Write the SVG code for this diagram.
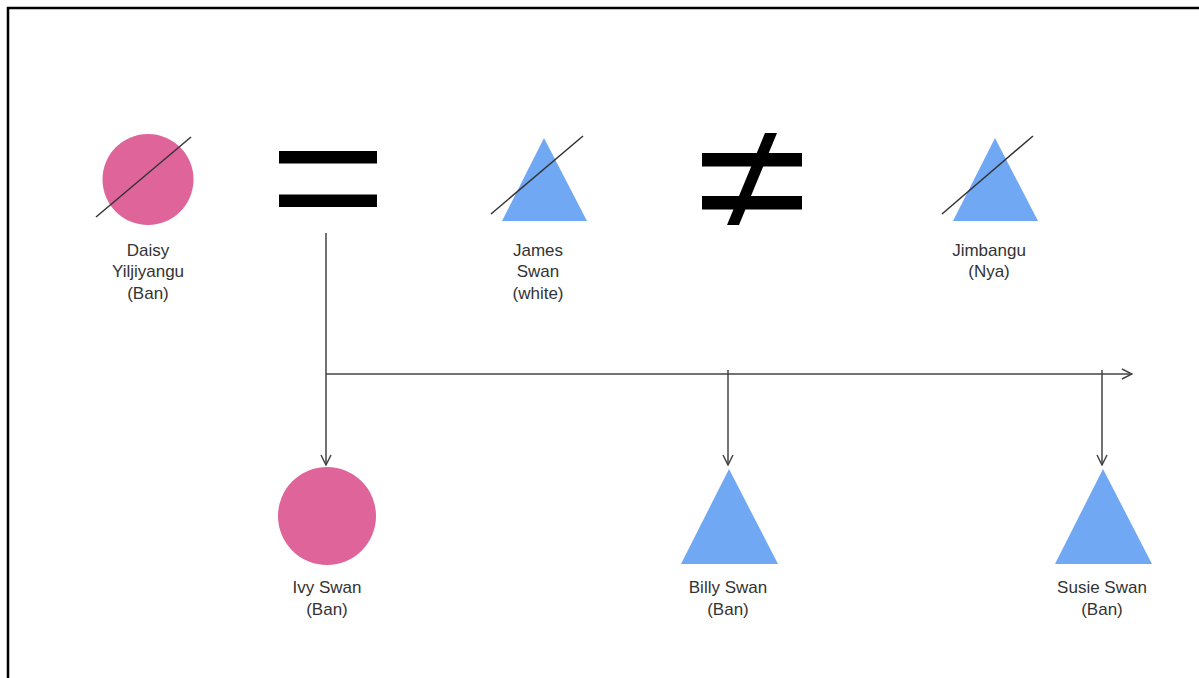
<svg xmlns="http://www.w3.org/2000/svg" width="1199" height="678" viewBox="0 0 1199 678">
<style>
.lbl{font-family:"Liberation Sans",Arial,sans-serif;font-size:17px;fill:#333;text-anchor:middle}
.f{fill:#DE6499}
.m{fill:#70A8F4}
.slash{stroke:#333;stroke-width:1.5;fill:none}
.conn{stroke:#444;stroke-width:1.5;fill:none}
</style>
<defs>
<marker id="arr" viewBox="0 0 12 12" refX="11" refY="6" markerWidth="12" markerHeight="12" markerUnits="userSpaceOnUse" orient="auto">
<path d="M1,1 L11,6 L1,11" fill="none" stroke="#444" stroke-width="1.5"/>
</marker>
</defs>
<rect width="1199" height="678" fill="#fff"/>
<path d="M8,678 V8 H1199" fill="none" stroke="#000" stroke-width="2.5"/>
<g id="connectors">
<path class="conn" d="M326,233 V374"/>
<path class="conn" d="M326,374 H1132" marker-end="url(#arr)"/>
<path class="conn" d="M326,374 V465" marker-end="url(#arr)"/>
<path class="conn" d="M728,370 V465" marker-end="url(#arr)"/>
<path class="conn" d="M1102,370 V465" marker-end="url(#arr)"/>
</g>
<g id="daisy">
<circle class="f" cx="148" cy="179.5" r="45.5"/>
<line class="slash" x1="96" y1="217" x2="191" y2="137"/>
<text class="lbl" x="148" y="256">Daisy</text>
<text class="lbl" x="148" y="277">Yiljiyangu</text>
<text class="lbl" x="148" y="299">(Ban)</text>
</g>
<g id="equals">
<rect x="279" y="151" width="98" height="12.5" fill="#000"/>
<rect x="279" y="194.5" width="98" height="12.5" fill="#000"/>
</g>
<g id="james">
<polygon class="m" points="544,138 587,221 502,221"/>
<line class="slash" x1="491" y1="214" x2="583" y2="136"/>
<text class="lbl" x="538" y="256">James</text>
<text class="lbl" x="538" y="277">Swan</text>
<text class="lbl" x="538" y="299">(white)</text>
</g>
<g id="notequal">
<rect x="702" y="153" width="100" height="13.5" fill="#000"/>
<rect x="702" y="196" width="100" height="13.5" fill="#000"/>
<polygon points="765,133 777,133 739,225 727,225" fill="#000"/>
</g>
<g id="jimbangu">
<polygon class="m" points="995,138 1038,221 953,221"/>
<line class="slash" x1="942" y1="214" x2="1033" y2="136"/>
<text class="lbl" x="989" y="256">Jimbangu</text>
<text class="lbl" x="989" y="277">(Nya)</text>
</g>
<g id="ivy">
<circle class="f" cx="327" cy="516" r="49"/>
<text class="lbl" x="327" y="593">Ivy Swan</text>
<text class="lbl" x="327" y="615">(Ban)</text>
</g>
<g id="billy">
<polygon class="m" points="729,469 778,564 681,564"/>
<text class="lbl" x="728" y="593">Billy Swan</text>
<text class="lbl" x="728" y="615">(Ban)</text>
</g>
<g id="susie">
<polygon class="m" points="1103,469 1152,564 1055,564"/>
<text class="lbl" x="1102" y="593">Susie Swan</text>
<text class="lbl" x="1102" y="615">(Ban)</text>
</g>
</svg>
